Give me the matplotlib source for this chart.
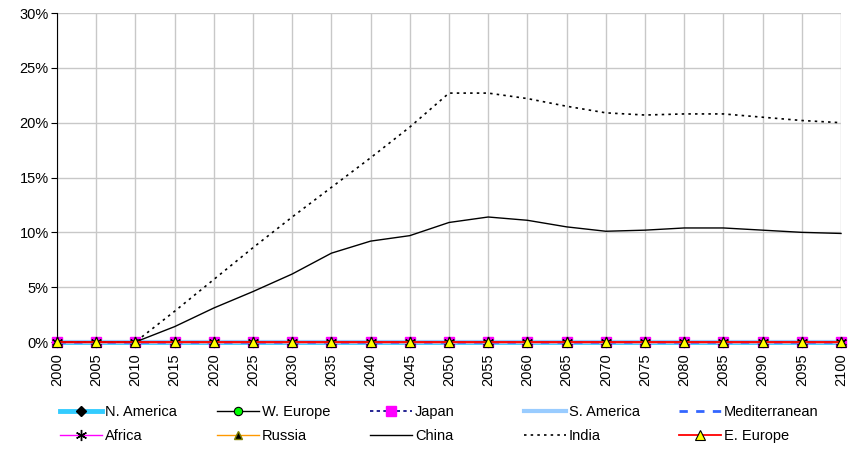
import numpy as np
import matplotlib.pyplot as plt
from matplotlib.lines import Line2D

plt.rcParams['font.family'] = ['Liberation Sans', 'DejaVu Sans']

years = list(range(2000, 2101, 5))
zero = [0.0] * len(years)

china = [0, 0, 0, 1.4, 3.1, 4.6, 6.2, 8.1, 9.2, 9.7, 10.9, 11.4, 11.1,
         10.5, 10.1, 10.2, 10.4, 10.4, 10.2, 10.0, 9.9]
india = [0, 0, 0, 2.8, 5.7, 8.6, 11.4, 14.1, 16.8, 19.6, 22.7, 22.7, 22.2,
         21.5, 20.9, 20.7, 20.8, 20.8, 20.5, 20.2, 20.0]

n_america = zero
w_europe = zero
japan = zero
s_america = zero
mediterranean = zero
africa = zero
russia = zero
e_europe = zero

yticks = [0, 5, 10, 15, 20, 25, 30]

fig = plt.figure(figsize=(8.49, 4.5), dpi=100)
ax = fig.add_axes([0.0671, 0.24, 0.9235, 0.731])

series = [
    ("N. America", n_america, dict(color="#33CCFF", lw=3.5, marker="D", ms=5,
                                   mfc="black", mec="black")),
    ("W. Europe", w_europe, dict(color="black", lw=1, marker="o", ms=6,
                                 mfc="#00FF00", mec="black", mew=0.8)),
    ("Japan", japan, dict(color="#000080", lw=1.2, ls=(0, (2, 2)), marker="s",
                          ms=7, mfc="#FF00FF", mec="#FF00FF")),
    ("S. America", s_america, dict(color="#99CCFF", lw=3)),
    ("Mediterranean", mediterranean, dict(color="#3366FF", lw=2, ls=(0, (3, 3)))),
    ("Africa", africa, dict(color="#FF00FF", lw=1, marker=(6, 2, 0), ms=8,
                            mec="black", mew=1)),
    ("Russia", russia, dict(color="#FF9900", lw=1, marker="^", ms=6,
                            mfc="black", mec="#808000")),
    ("China", china, dict(color="black", lw=1)),
    ("India", india, dict(color="black", lw=1.2, ls=(0, (1.5, 2.5)))),
    ("E. Europe", e_europe, dict(color="#FF0000", lw=1.3, marker="^", ms=7,
                                 mfc="#FFFF00", mec="black", mew=0.8)),
]

handles = {}
for name, vals, style in series:
    ln, = ax.plot(years, vals, clip_on=False, zorder=3, **style)
    handles[name] = ln

ax.set_xlim(2000, 2100)
ax.set_ylim(0, 30)
ax.set_xticks(years)
ax.set_xticklabels([str(y) for y in years], rotation=90, fontsize=10.5)
ax.set_yticks(yticks)
ax.set_yticklabels([f"{t}%" for t in yticks], fontsize=10.5)
ax.grid(True, color="#C8C8C8", lw=1)
ax.set_axisbelow(True)
for s in ["top", "right"]:
    ax.spines[s].set_visible(False)
ax.spines["left"].set_color("black")
ax.spines["bottom"].set_color("black")
ax.tick_params(axis="y", length=4, direction="out", pad=2)
ax.tick_params(axis="x", length=0, pad=8)

# legend: five columns of two entries each
cols = [("N. America", "Africa"), ("W. Europe", "Russia"),
        ("Japan", "China"), ("S. America", "India"),
        ("Mediterranean", "E. Europe")]
col_x = [63, 220, 373, 527, 682]
for cx, names in zip(col_x, cols):
    leg = fig.legend([handles[n] for n in names], list(names),
                     loc="upper left", bbox_to_anchor=(cx / 849 - 0.004, 1 - 405 / 450),
                     frameon=False, fontsize=10.5, handlelength=2.9,
                     handletextpad=0.2, labelspacing=0.7, borderpad=0,
                     borderaxespad=0, numpoints=1)

fig.savefig("out.png", dpi=100)
